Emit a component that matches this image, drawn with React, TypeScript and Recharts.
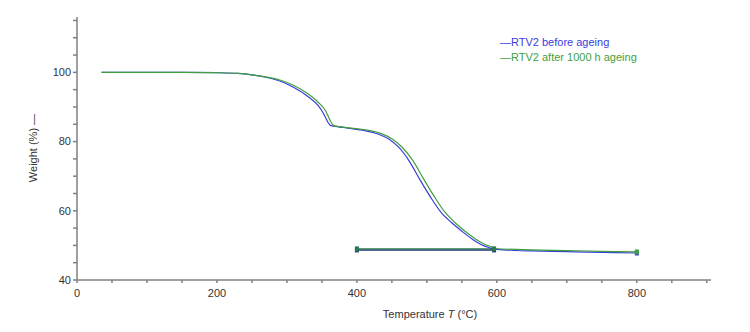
import { LineChart, Line, XAxis, YAxis } from "recharts";

// RTV2 before ageing (blue): main TGA curve incl. tail to 800 °C
const beforeT = [35, 100, 150, 200, 230, 250, 270, 290, 310, 330, 345, 352, 358, 362, 370, 390, 410, 430, 445, 460, 475, 490, 505, 520, 535, 550, 565, 580, 590, 597, 620, 650, 700, 750, 800];
const beforeW = [100, 100, 100, 99.9, 99.7, 99.3, 98.6, 97.5, 95.6, 93, 90.3, 88.2, 85.8, 84.7, 84.4, 83.8, 83.2, 82.2, 80.8, 78.3, 74.3, 69, 64, 59.6, 56.6, 54.1, 51.8, 50, 49.3, 48.9, 48.6, 48.4, 48.2, 48.0, 47.8];

// RTV2 after 1000 h ageing (green)
const afterT = [35, 100, 150, 200, 230, 250, 270, 290, 310, 330, 345, 355, 362, 367, 375, 395, 415, 435, 450, 465, 480, 495, 510, 525, 540, 555, 570, 585, 593, 597, 650, 700, 750, 800];
const afterW = [100, 100, 100, 99.9, 99.7, 99.3, 98.7, 97.8, 96.2, 93.8, 91.3, 89, 86, 84.6, 84.3, 83.8, 83.3, 82.3, 80.8, 78.3, 74.5, 69.3, 64.3, 59.8, 56.6, 54, 51.8, 50.1, 49.5, 49.1, 48.7, 48.5, 48.3, 48.1];

// horizontal segments 400 → 596 °C
const segT = [400, 596];
const segBeforeW = [48.7, 48.7];
const segAfterW = [49.0, 49.0];

const xTicks = [0, 50, 100, 150, 200, 250, 300, 350, 400, 450, 500, 550, 600, 650, 700, 750, 800, 850, 900];
const yTicks = [40, 45, 50, 55, 60, 65, 70, 75, 80, 85, 90, 95, 100, 105, 110, 115];

const zip = (t: number[], w: number[]) => t.map((v, i) => ({ t: v, w: w[i] }));

const BLUE = "#3b3bdc";
const GREEN = "#3f9f3f";
const FONT = "'Liberation Sans', Arial, sans-serif";

function SquareDot(props: any) {
  const { cx, cy, stroke } = props;
  if (cx == null) return null;
  return <rect x={cx - 2} y={cy - 2.5} width={4} height={5} fill={stroke} />;
}

function EndDot(props: any) {
  const { cx, cy, stroke, payload } = props;
  if (cx == null || payload?.t !== 800) return null;
  return <rect x={cx - 2} y={cy - 2.5} width={4} height={5} fill={stroke} />;
}

export default function App() {
  const tickStyle = { fontSize: 11, fill: "#333", fontFamily: FONT };
  return (
    <div style={{ position: "relative", width: 750, height: 332, background: "#fff", fontFamily: FONT }}>
      <style>{"body{margin:0}"}</style>
      <LineChart width={750} height={332} margin={{ top: 17, right: 39, bottom: 0, left: 0 }}>
        <XAxis
          type="number"
          dataKey="t"
          domain={[0, 906]}
          ticks={xTicks}
          tickFormatter={(v: number) => (v % 200 === 0 && v <= 800 ? String(v) : "")}
          tick={tickStyle}
          tickSize={3}
          tickMargin={6}
          height={52}
          stroke="#808080"
          strokeWidth={1.5}
          allowDataOverflow
        />
        <YAxis
          type="number"
          dataKey="w"
          domain={[40, 116]}
          ticks={yTicks}
          tickFormatter={(v: number) => (v % 20 === 0 ? String(v) : "")}
          tick={tickStyle}
          tickSize={4}
          tickMargin={2}
          width={77}
          stroke="#808080"
          strokeWidth={1.5}
          allowDataOverflow
        />
        <Line data={zip(segT, segBeforeW)} dataKey="w" stroke="#1c2f80" strokeWidth={1.5} dot={<SquareDot />} isAnimationActive={false} />
        <Line data={zip(segT, segAfterW)} dataKey="w" stroke="#2a7a4a" strokeWidth={1.2} dot={<SquareDot />} isAnimationActive={false} />
        <Line data={zip(beforeT, beforeW)} dataKey="w" type="monotone" stroke={BLUE} strokeWidth={1.2} dot={<EndDot />} isAnimationActive={false} />
        <Line data={zip(afterT, afterW)} dataKey="w" type="monotone" stroke={GREEN} strokeWidth={1.2} dot={<EndDot />} isAnimationActive={false} />
      </LineChart>

      <div style={{ position: "absolute", left: 500, top: 35, fontSize: 11, lineHeight: "15px", whiteSpace: "nowrap" }}>
        <div style={{ color: BLUE }}>—RTV2 before ageing</div>
        <div style={{ color: GREEN }}>—RTV2 after 1000 h ageing</div>
      </div>

      <div
        style={{
          position: "absolute",
          left: 33,
          top: 148,
          fontSize: 11,
          color: "#333",
          whiteSpace: "nowrap",
          transform: "translate(-50%, -50%) rotate(-90deg)",
        }}
      >
        Weight (%) —
      </div>

      <div
        style={{
          position: "absolute",
          left: 430,
          top: 314,
          fontSize: 11,
          color: "#333",
          whiteSpace: "nowrap",
          transform: "translate(-50%, -50%)",
        }}
      >
        Temperature <i>T</i> (°C)
      </div>
    </div>
  );
}
